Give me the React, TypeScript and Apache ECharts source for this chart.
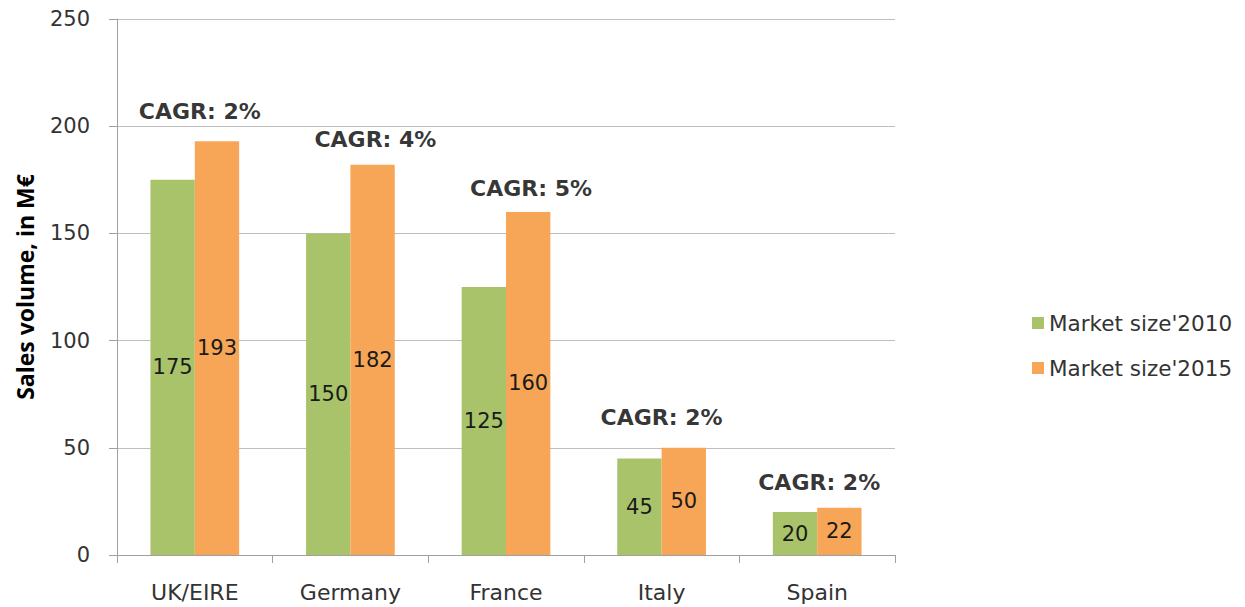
import React, { useEffect, useRef } from "react";
import * as echarts from "echarts";

const categories = ["UK/EIRE", "Germany", "France", "Italy", "Spain"];
const market2010 = [175, 150, 125, 45, 20];
const market2015 = [193, 182, 160, 50, 22];
const cagrLabels = ["2%", "4%", "5%", "2%", "2%"];
const cagrLabelLevel = [207, 194, 171, 64, 34];
const yTicks = { min: 0, max: 250, interval: 50 };

// label placement tweaks (style, not data)
const cagrLabelDx = [5, 25, 25, 0, 2];

const FONT = "DejaVu Sans";

export default function App() {
  const ref = useRef<HTMLDivElement>(null);
  useEffect(() => {
    document.body.style.margin = "0";
    if (!ref.current) return;
    const chart = echarts.init(ref.current, undefined, { renderer: "svg" });
    chart.setOption({
      animation: false,
      textStyle: { fontFamily: FONT },
      grid: { left: 117, right: 350, top: 19, bottom: 52, containLabel: false },
      legend: {
        orient: "vertical",
        left: 1027,
        top: 307,
        itemWidth: 12,
        itemHeight: 12,
        itemGap: 23,
        icon: "rect",
        textStyle: { fontFamily: FONT, fontSize: 21.5, color: "#333" },
        data: ["Market size'2010", "Market size'2015"],
      },
      xAxis: {
        type: "category",
        data: categories,
        axisLine: { lineStyle: { color: "#a0a0a0", width: 1 } },
        axisTick: { show: true, length: 8, alignWithLabel: false, lineStyle: { color: "#a0a0a0" } },
        axisLabel: { fontFamily: FONT, fontSize: 22, color: "#333", margin: 26 },
      },
      yAxis: {
        type: "value",
        min: yTicks.min,
        max: yTicks.max,
        interval: yTicks.interval,
        name: "Sales volume, in M€",
        nameLocation: "middle",
        nameGap: 81,
        nameTextStyle: { fontFamily: "Open Sans", fontWeight: "bold", fontSize: 23, color: "#000" },
        axisLine: { show: true, lineStyle: { color: "#a0a0a0" } },
        axisTick: { show: true, length: 8, lineStyle: { color: "#a0a0a0" } },
        axisLabel: { fontFamily: FONT, fontSize: 21, color: "#333", margin: 27 },
        splitLine: { show: true, lineStyle: { color: "#bdbdbd" } },
      },
      series: [
        {
          name: "Market size'2010",
          type: "bar",
          data: market2010,
          barGap: "0%",
          barCategoryGap: "43%",
          itemStyle: { color: "#A9C36A" },
          label: { show: true, position: "inside", fontFamily: FONT, fontSize: 21, color: "#1a1a1a" },
        },
        {
          name: "Market size'2015",
          type: "bar",
          data: market2015,
          itemStyle: { color: "#F7A658" },
          label: { show: true, position: "inside", fontFamily: FONT, fontSize: 21, color: "#1a1a1a" },
        },
        {
          name: "cagr",
          type: "scatter",
          data: cagrLabelLevel.map((v, i) => ({
            value: v,
            label: { offset: [cagrLabelDx[i], 0] },
          })),
          symbolSize: 0,
          silent: true,
          label: {
            show: true,
            position: "inside",
            formatter: (p: any) => "CAGR: " + cagrLabels[p.dataIndex],
            fontFamily: FONT,
            fontWeight: "bold",
            fontSize: 22,
            color: "#000",
            textBorderWidth: 0,
          },
        },
      ],
    });
    return () => chart.dispose();
  }, []);
  return <div ref={ref} style={{ width: 1245, height: 607 }} />;
}
